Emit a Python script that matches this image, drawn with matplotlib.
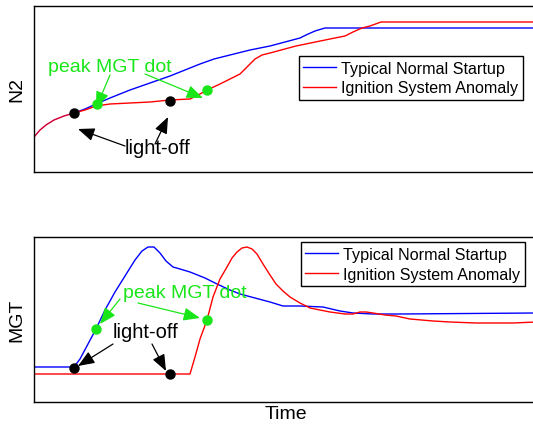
import matplotlib
matplotlib.use("Agg")
import matplotlib.pyplot as plt

plt.rcParams['font.family'] = ['Liberation Sans', 'DejaVu Sans']

# ---- data (time in arbitrary units, signals in arbitrary units) ----
# N2, shared start of both startups
n2_common_t = [0.0, 1.2, 2.4, 4.0, 6.0, 8.0]
n2_common_v = [35, 42, 47, 52, 56, 59]

n2_normal_t = [8.0, 10.2, 12.4, 15.2, 19.2, 23.2, 27.2, 30.2, 33.2, 36.0, 39.2,
               43.2, 47.2, 50.2, 53.2, 54.4, 56.2, 58.2, 61.2, 80.0, 100.4]
n2_normal_v = [59, 63, 68, 74, 82, 89, 96, 102, 108, 113, 117,
               122, 126, 130, 134, 137, 141, 144, 144, 144, 144]

n2_anom_t = [8.0, 10.2, 12.4, 15.2, 19.2, 23.2, 27.2, 31.2, 33.2, 34.6, 37.2,
             39.6, 41.2, 42.8, 44.2, 45.6, 47.2, 52.4, 59.2, 62.2, 63.8,
             65.6, 67.2, 69.4, 72.4, 100.4]
n2_anom_v = [59, 62, 66, 68, 69, 70, 72, 73, 78, 82, 88,
             94, 98, 106, 113, 117, 119, 126, 133, 136, 140,
             144, 146, 150, 150, 150]

mgt_normal_t = [0.0, 8.0, 9.2, 10.8, 12.4, 14.2, 16.2, 18.2, 20.2, 21.6, 22.8,
                24.0, 25.2, 26.4, 27.8, 29.2, 31.2, 34.2, 36.6, 39.2, 41.2,
                44.2, 47.2, 49.8, 53.2, 57.8, 61.2, 63.8, 67.8, 73.2, 100.4]
mgt_normal_v = [35, 35, 43, 58, 73, 92, 110, 126, 142, 151, 155,
                155, 149, 141, 135, 133, 130, 124, 118, 112, 108,
                104, 100, 96, 96, 95, 91, 89, 88, 88, 89]

mgt_anom_t = [0.0, 31.2, 32.2, 33.2, 34.6, 35.8, 37.2, 38.6, 39.6, 40.6, 41.6,
              42.6, 43.6, 44.6, 45.8, 47.2, 48.4, 49.8, 51.2, 53.2, 55.2,
              57.2, 59.2, 62.2, 63.8, 65.2, 66.4, 67.8, 70.2, 72.4, 75.2,
              79.8, 83.2, 88.4, 95.8, 100.4]
mgt_anom_v = [28, 28, 45, 63, 82, 105, 123, 135, 144, 150, 154,
              155, 153, 148, 138, 127, 118, 111, 105, 99, 94,
              92, 90, 88, 88, 90, 90, 89, 87, 86, 83,
              81, 80, 79, 79, 80]

# event markers
lightoff_normal = (8.0, 59)
lightoff_anom = (27.2, 71)
peak_normal_n2 = (12.6, 68)
peak_anom_n2 = (34.6, 82)
lightoff_normal_mgt = (8.0, 34)
lightoff_anom_mgt = (27.2, 28)
peak_normal_mgt = (12.4, 73)
peak_anom_mgt = (34.6, 82)

BLUE = '#0000ff'
RED = '#ff0000'
GREEN = '#19e619'

fig = plt.figure(figsize=(5.33, 4.31), dpi=100)
W, H = 533.0, 431.0
ax1 = fig.add_axes([34 / W, (H - 173) / H, 503 / W, 166 / H])
ax2 = fig.add_axes([34 / W, (H - 403) / H, 503 / W, 165 / H])

XMAX = 100.6
ARROW = '-|>,head_length=1.0,head_width=0.4'

# ---------- top: N2 ----------
ax1.plot(n2_normal_t, n2_normal_v, color=BLUE, lw=1.0, label='Typical Normal Startup')
ax1.plot(n2_anom_t, n2_anom_v, color=RED, lw=1.0, label='Ignition System Anomaly')
ax1.plot(n2_common_t, n2_common_v, color=RED, lw=1.0)
ax1.plot(n2_common_t, n2_common_v, color='#8000a0', lw=0.6, alpha=0.6)
ax1.set_xlim(0, XMAX)
ax1.set_ylim(0, 166)

for (x, y) in [lightoff_normal, lightoff_anom]:
    ax1.plot(x, y, 'o', color='black', ms=6.5, zorder=5)
for (x, y) in [peak_normal_n2, peak_anom_n2]:
    ax1.plot(x, y, 'o', color=GREEN, ms=6.5, zorder=5)

ax1.text(15.2, 105, 'peak MGT dot', color=GREEN, fontsize=14, ha='center', va='center')
ax1.annotate('', xy=(12.4, 64), xytext=(15.2, 97),
             arrowprops=dict(arrowstyle=ARROW, color=GREEN, lw=0.9, shrinkA=0, shrinkB=0))
ax1.annotate('', xy=(33.8, 74), xytext=(22.2, 98),
             arrowprops=dict(arrowstyle=ARROW, color=GREEN, lw=0.9, shrinkA=0, shrinkB=0))
ax1.text(24.8, 24, 'light-off', color='black', fontsize=14.5, ha='center', va='center')
ax1.annotate('', xy=(8.8, 43), xytext=(18.2, 26),
             arrowprops=dict(arrowstyle=ARROW, color='black', lw=0.9, shrinkA=0, shrinkB=0))
ax1.annotate('', xy=(26.8, 55), xytext=(24.2, 28),
             arrowprops=dict(arrowstyle=ARROW, color='black', lw=0.9, shrinkA=0, shrinkB=0))

leg_kw = dict(loc='upper left', fontsize=11.6, frameon=True, fancybox=False,
              framealpha=1, edgecolor='black', handlelength=2.0, handletextpad=0.35,
              borderpad=0.3, labelspacing=0.3, borderaxespad=0)
leg1 = ax1.legend(bbox_to_anchor=(0.526, 0.70), **leg_kw)
leg1.get_frame().set_linewidth(1.0)

ax1.set_ylabel('N2', fontsize=14, labelpad=6)

# ---------- bottom: MGT ----------
ax2.plot(mgt_normal_t, mgt_normal_v, color=BLUE, lw=1.0, label='Typical Normal Startup')
ax2.plot(mgt_anom_t, mgt_anom_v, color=RED, lw=1.0, label='Ignition System Anomaly')
ax2.set_xlim(0, XMAX)
ax2.set_ylim(0, 165)

for (x, y) in [lightoff_normal_mgt, lightoff_anom_mgt]:
    ax2.plot(x, y, 'o', color='black', ms=6.5, zorder=5)
for (x, y) in [peak_normal_mgt, peak_anom_mgt]:
    ax2.plot(x, y, 'o', color=GREEN, ms=6.5, zorder=5)

ax2.text(30.2, 110, 'peak MGT dot', color=GREEN, fontsize=14, ha='center', va='center')
ax2.annotate('', xy=(13.2, 78), xytext=(17.2, 103),
             arrowprops=dict(arrowstyle=ARROW, color=GREEN, lw=0.9, shrinkA=0, shrinkB=0))
ax2.annotate('', xy=(33.2, 84), xytext=(20.8, 99),
             arrowprops=dict(arrowstyle=ARROW, color=GREEN, lw=0.9, shrinkA=0, shrinkB=0))
ax2.text(22.2, 70, 'light-off', color='black', fontsize=14.5, ha='center', va='center')
ax2.annotate('', xy=(8.8, 36), xytext=(15.8, 58),
             arrowprops=dict(arrowstyle=ARROW, color='black', lw=0.9, shrinkA=0, shrinkB=0))
ax2.annotate('', xy=(26.4, 31), xytext=(23.6, 58),
             arrowprops=dict(arrowstyle=ARROW, color='black', lw=0.9, shrinkA=0, shrinkB=0))

leg2 = ax2.legend(bbox_to_anchor=(0.53, 0.97), **leg_kw)
leg2.get_frame().set_linewidth(1.0)

ax2.set_ylabel('MGT', fontsize=14, labelpad=6)
ax2.set_xlabel('Time', fontsize=14, labelpad=2)

for ax in (ax1, ax2):
    ax.set_xticks([])
    ax.set_yticks([])
    for s in ax.spines.values():
        s.set_linewidth(1.0)
        s.set_color('black')

fig.savefig('out.png', dpi=100)
